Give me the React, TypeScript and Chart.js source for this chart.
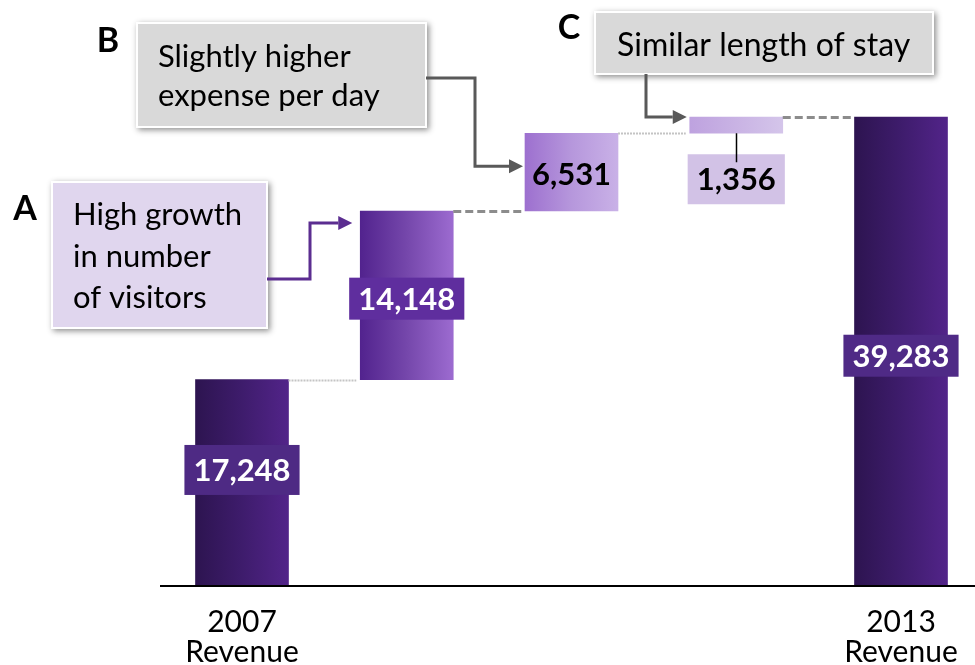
import React, { useEffect, useRef } from 'react';
import { Chart, registerables } from 'chart.js';

Chart.register(...registerables);

// ---- data ----
const categories = ['2007 Revenue', 'Number of visitors', 'Expense per day', 'Length of stay', '2013 Revenue'];
const tickLabels: (string | string[])[] = [['2007', 'Revenue'], '', '', '', ['2013', 'Revenue']];
const startRevenue = 17248;
const increments = [14148, 6531, 1356];
const endRevenue = 39283;
const calloutLetters = ['A', 'B', 'C'];
const calloutTexts = [
  ['High growth', 'in number', 'of visitors'],
  ['Slightly higher', 'expense per day'],
  ['Similar length of stay'],
];

// floating bars built from the values
const floating: [number, number][] = [];
floating.push([0, startRevenue]);
{
  let acc = startRevenue;
  increments.forEach((v) => {
    floating.push([acc, acc + v]);
    acc += v;
  });
}
floating.push([0, endRevenue]);
const barValues = [startRevenue, ...increments, endRevenue];

const FONT = 'Lato, "Open Sans", sans-serif';

const gradStops: [string, string, string][] = [
  ['#2d1450', '#3e1c6c', '#522489'],
  ['#52238e', '#7547ab', '#9c6bd0'],
  ['#9d70cf', '#b697dc', '#c9b1e7'],
  ['#bea2df', '#c9b3e4', '#d4c5ea'],
  ['#2d1450', '#3e1c6c', '#522489'],
];

const labelCfg = [
  { fill: '#4e2a84', color: '#ffffff', pos: 0.44, h: 50 },
  { fill: '#5f2e9e', color: '#ffffff', pos: 0.52, h: 42 },
  { fill: '', color: '#000000', pos: 0.53, h: 0 },
  { fill: '#d2c2e6', color: '#000000', pos: -1, h: 50 },
  { fill: '#4f2a86', color: '#ffffff', pos: 0.51, h: 42 },
];

function arrow(ctx: CanvasRenderingContext2D, pts: [number, number][], color: string) {
  const head = 14;
  const hw = 7;
  const n = pts.length;
  const [tx, ty] = pts[n - 1];
  const [px, py] = pts[n - 2];
  const dx = Math.sign(tx - px);
  const dy = Math.sign(ty - py);
  ctx.save();
  ctx.strokeStyle = color;
  ctx.fillStyle = color;
  ctx.lineWidth = 3;
  ctx.lineJoin = 'miter';
  ctx.setLineDash([]);
  ctx.beginPath();
  ctx.moveTo(pts[0][0], pts[0][1]);
  for (let i = 1; i < n - 1; i++) ctx.lineTo(pts[i][0], pts[i][1]);
  ctx.lineTo(tx - dx * head, ty - dy * head);
  ctx.stroke();
  ctx.beginPath();
  ctx.moveTo(tx, ty);
  ctx.lineTo(tx - dx * head - dy * hw, ty - dy * head - dx * hw);
  ctx.lineTo(tx - dx * head + dy * hw, ty - dy * head + dx * hw);
  ctx.closePath();
  ctx.fill();
  ctx.restore();
}

function callBox(ctx: CanvasRenderingContext2D, x: number, y: number, w: number, h: number, fill: string) {
  ctx.save();
  ctx.shadowColor = 'rgba(0,0,0,0.45)';
  ctx.shadowBlur = 6;
  ctx.shadowOffsetX = 2;
  ctx.shadowOffsetY = 2;
  ctx.fillStyle = '#ffffff';
  ctx.fillRect(x - 1, y - 1, w + 2, h + 2);
  ctx.restore();
  ctx.save();
  ctx.fillStyle = fill;
  ctx.fillRect(x + 1, y + 1, w - 2, h - 2);
  ctx.restore();
}

const overlayPlugin = {
  id: 'overlay',
  afterDatasetsDraw(chart: any) {
    const ctx: CanvasRenderingContext2D = chart.ctx;
    const meta = chart.getDatasetMeta(0);
    const ys = chart.scales.y;
    const els = meta.data;

    // connectors
    for (let i = 0; i < els.length - 1; i++) {
      const a = els[i];
      const b = els[i + 1];
      const yy = Math.round(ys.getPixelForValue(floating[i][1])) + 0.5;
      const x1 = a.x + a.width / 2;
      const x2 = b.x - b.width / 2 - (i % 2 === 0 ? 4 : 1);
      ctx.save();
      if (i % 2 === 0) {
        ctx.strokeStyle = '#c4c4c4';
        ctx.lineWidth = 2;
        ctx.setLineDash([2, 1]);
      } else {
        ctx.strokeStyle = '#8c8c8c';
        ctx.lineWidth = 3;
        ctx.setLineDash([8, 4]);
      }
      ctx.beginPath();
      ctx.moveTo(x1, yy);
      ctx.lineTo(x2, yy);
      ctx.stroke();
      ctx.restore();
    }

    // axis line
    const bottom = chart.chartArea.bottom;
    ctx.save();
    ctx.strokeStyle = '#000000';
    ctx.lineWidth = 2;
    ctx.beginPath();
    ctx.moveTo(160, bottom + 1);
    ctx.lineTo(chart.width, bottom + 1);
    ctx.stroke();
    ctx.restore();

    // value labels
    ctx.save();
    ctx.font = `bold 31px ${FONT}`;
    ctx.textAlign = 'center';
    ctx.textBaseline = 'middle';
    els.forEach((el: any, i: number) => {
      const cfg = labelCfg[i];
      const top = Math.min(el.y, el.base);
      const bot = Math.max(el.y, el.base);
      const text = barValues[i].toLocaleString('en-US');
      const tw = ctx.measureText(text).width;
      let cy: number;
      if (cfg.pos < 0) {
        cy = bot + 46;
      } else {
        cy = top + (bot - top) * cfg.pos;
      }
      if (cfg.fill) {
        ctx.fillStyle = cfg.fill;
        const bw = tw + 18;
        ctx.fillRect(el.x - bw / 2, cy - cfg.h / 2, bw, cfg.h);
      }
      if (cfg.pos < 0) {
        ctx.strokeStyle = '#000000';
        ctx.lineWidth = 1.5;
        ctx.beginPath();
        ctx.moveTo(Math.round(el.x) + 0.5, bot);
        ctx.lineTo(Math.round(el.x) + 0.5, cy - 17);
        ctx.stroke();
      }
      ctx.fillStyle = cfg.color;
      ctx.fillText(text, el.x, cy + 1);
    });
    ctx.restore();

    // callouts
    const b1 = els[1];
    const b2 = els[2];
    const b3 = els[3];
    const b1top = Math.min(b1.y, b1.base);
    const b2top = Math.min(b2.y, b2.base);
    const b2bot = Math.max(b2.y, b2.base);
    const b3top = Math.min(b3.y, b3.base);

    callBox(ctx, 52, 182, 215, 146, '#e0d6ee');
    callBox(ctx, 137, 23, 289, 104, '#d9d9d9');
    callBox(ctx, 595, 12, 338, 62, '#d9d9d9');

    arrow(ctx, [[267, 279], [310, 279], [310, b1top + 12], [b1.x - b1.width / 2 - 8, b1top + 12]], '#5b2d90');
    arrow(ctx, [[426, 78], [475, 78], [475, (b2top + b2bot) / 2 - 6], [b2.x - b2.width / 2 - 2, (b2top + b2bot) / 2 - 6]], '#595959');
    arrow(ctx, [[646, 74], [646, b3top], [b3.x - b3.width / 2 - 3, b3top]], '#595959');

    ctx.save();
    ctx.fillStyle = '#000000';
    ctx.textAlign = 'left';
    ctx.textBaseline = 'alphabetic';
    ctx.font = `31px ${FONT}`;
    const txt: [number, number[]][] = [
      [73, [225, 267, 308]],
      [158, [67, 106]],
      [617, [56]],
    ];
    calloutTexts.forEach((lines, k) => {
      if (k === 2) ctx.font = `32px ${FONT}`;
      lines.forEach((ln, j) => ctx.fillText(ln, txt[k][0], txt[k][1][j]));
    });
    ctx.font = `bold 34px ${FONT}`;
    ctx.textAlign = 'center';
    const lp: [number, number][] = [
      [25, 220],
      [108, 52],
      [569, 39],
    ];
    calloutLetters.forEach((l, k) => ctx.fillText(l, lp[k][0], lp[k][1]));
    ctx.restore();
  },
};

export default function App() {
  const ref = useRef<HTMLCanvasElement | null>(null);
  useEffect(() => {
    if (!ref.current) return;
    const chart = new Chart(ref.current, {
      type: 'bar',
      data: {
        labels: categories,
        datasets: [
          {
            data: floating as any,
            clip: false as any,
            barThickness: 93,
            borderWidth: 0,
            backgroundColor: (c: any) => {
              const ch = c.chart;
              const xs = ch.scales?.x;
              const i = c.dataIndex ?? 0;
              const stops = gradStops[i] || gradStops[0];
              if (!xs || !ch.chartArea) return stops[1];
              const cx = xs.getPixelForValue(i);
              const g = ch.ctx.createLinearGradient(cx - 46.5, 0, cx + 46.5, 0);
              g.addColorStop(0, stops[0]);
              g.addColorStop(0.5, stops[1]);
              g.addColorStop(1, stops[2]);
              return g;
            },
          },
        ],
      },
      options: {
        animation: false,
        responsive: false,
        maintainAspectRatio: false,
        layout: { padding: { left: 242, right: 74, top: 49, bottom: 0 } },
        plugins: { legend: { display: false }, tooltip: { enabled: false } },
        scales: {
          x: {
            offset: false,
            grid: { display: false, drawTicks: false },
            border: { display: false },
            ticks: {
              autoSkip: false,
              maxRotation: 0,
              padding: 22,
              color: '#000000',
              font: { family: FONT, size: 30, lineHeight: 1.0 },
              callback: (_v: any, idx: number) => tickLabels[idx] as any,
            },
            afterFit: (s: any) => {
              s.height = 80;
              s.paddingLeft = 0;
              s.paddingRight = 0;
            },
          },
          y: {
            display: false,
            min: 0,
            max: 45000,
          },
        },
      },
      plugins: [overlayPlugin],
    });
    return () => chart.destroy();
  }, []);
  return (
    <div style={{ position: 'absolute', left: 0, top: 0, width: 975, height: 665, background: '#ffffff' }}>
      <canvas ref={ref} width={975} height={665} style={{ width: 975, height: 665, display: 'block' }} />
    </div>
  );
}
